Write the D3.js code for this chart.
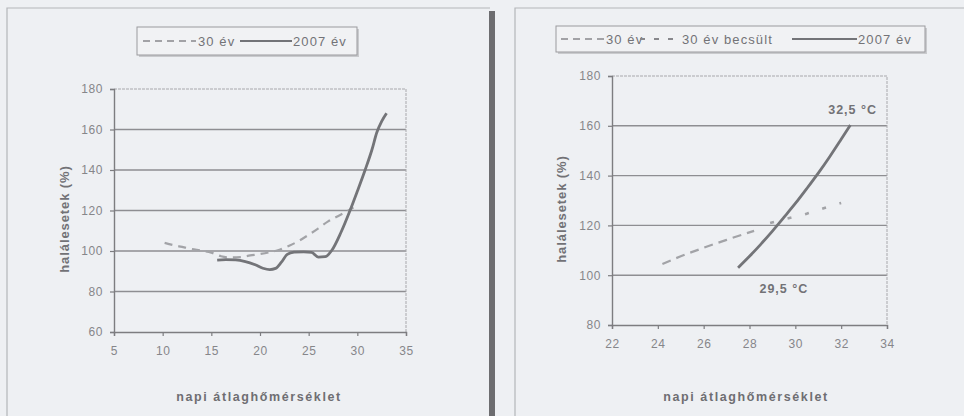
<!DOCTYPE html>
<html><head><meta charset="utf-8">
<script src="https://cdn.jsdelivr.net/npm/d3@7"></script>
<style>
html,body{margin:0;padding:0;background:#eef0f3;}
svg{display:block;font-family:"Liberation Sans",Arial,sans-serif;}
</style></head>
<body><svg id="c" width="964" height="416"></svg>
<script>
// ---------- data ----------
const leftSeriesNames = ["30 év", "2007 év"];
const left30 = [[10.2,104],[11,103],[12,102],[13,101],[14,100.2],[15,99.2],[16,97.4],[17,96.8],[18,97],[19,97.8],[20,98.5],[21,99.4],[22,100.6],[23,102.6],[24,105],[25,108],[26,111.2],[27,114.6],[28,117.2],[29,119.8],[29.6,121.5]];
const left2007 = [[15.6,95.5],[16.5,95.7],[17.5,95.6],[18.5,94.8],[19.5,93.2],[20.3,91.5],[21,90.8],[21.6,91.4],[22.2,94.5],[22.8,98.3],[23.5,99.4],[24.5,99.6],[25.3,99.3],[26,97],[26.7,97.2],[27.4,100.5],[28.3,109],[29.25,120],[30,129.5],[30.8,140],[31.5,150],[32,158.5],[32.5,164],[33,168]];
const leftXTicks = [5,10,15,20,25,30,35];
const leftYTicks = [60,80,100,120,140,160,180];

const rightSeriesNames = ["30 év", "30 év becsült", "2007 év"];
const right30 = [[24.2,104.5],[25,107.6],[26,111],[27,114.2],[28.2,117.8]];
const right30Est = [[28.9,121],[29.7,122.9],[30.5,124.7],[31.2,126.8],[32,129]];
const right2007 = [[27.5,103],[28,107.6],[28.5,112.5],[29,117.7],[29.5,123.2],[30,128.8],[30.5,134.8],[31,141],[31.5,147.6],[32,154.6],[32.4,160.3]];
const rightXTicks = [22,24,26,28,30,32,34];
const rightYTicks = [80,100,120,140,160,180];
const rightNotes = [{t:"32,5 °C", x:32.5, y:166.5}, {t:"29,5 °C", x:29.5, y:94.5}];

const xTitle = "napi átlaghőmérséklet";
const yTitle = "halálesetek (%)";

// ---------- drawing ----------
const svg = d3.select("#c");

// page frames (scan)
svg.append("path").attr("d","M7,416V8H490").attr("fill","none").attr("stroke","#b4b6ba").attr("stroke-width",1.2);
svg.append("rect").attr("x",489).attr("y",11).attr("width",6).attr("height",405).attr("fill","#6d6d70");
svg.append("path").attr("d","M515,416V8H964").attr("fill","none").attr("stroke","#b4b6ba").attr("stroke-width",1.2);

function panel(o){
  const x = d3.scaleLinear().domain(o.xd).range(o.xr);
  const y = d3.scaleLinear().domain(o.yd).range(o.yr);
  const g = svg.append("g");
  g.selectAll(".grid").data(o.yTicks.filter(v=>v>o.yd[0] && v<o.yd[1])).join("line")
    .attr("x1",o.xr[0]).attr("x2",o.xr[1]).attr("y1",d=>y(d)).attr("y2",d=>y(d))
    .attr("stroke","#8e8e92").attr("stroke-width",1.4);
  g.append("path").attr("d",`M${o.xr[0]},${o.yr[1]}H${o.xr[1]}V${o.yr[0]}`)
    .attr("fill","none").attr("stroke","#a8a8ac").attr("stroke-width",1).attr("stroke-dasharray","3,1");
  const ya = g.append("g").attr("transform",`translate(${o.xr[0]},0)`)
    .call(d3.axisLeft(y).tickValues(o.yTicks).tickSize(4).tickPadding(7).tickFormat(d3.format("d")));
  const xa = g.append("g").attr("transform",`translate(0,${o.yr[0]})`)
    .call(d3.axisBottom(x).tickValues(o.xTicks).tickSize(4).tickPadding(10).tickFormat(d3.format("d")));
  [ya,xa].forEach(a=>{
    a.select(".domain").attr("stroke","#7d7d80").attr("stroke-width",1.4);
    a.selectAll(".tick line").attr("stroke","#7d7d80").attr("stroke-width",1.2);
    a.selectAll(".tick text").attr("fill","#86868a").attr("font-size",12).attr("letter-spacing",0.6).attr("font-family","Liberation Sans, Arial");
  });
  const line = d3.line().x(d=>x(d[0])).y(d=>y(d[1])).curve(d3.curveMonotoneX);
  o.series.forEach(s=>{
    g.append("path").datum(s.data).attr("d",line).attr("fill","none")
      .attr("stroke",s.color).attr("stroke-width",s.w).attr("stroke-dasharray",s.dash||null)
      .attr("stroke-linecap","butt");
  });
  g.append("text").attr("x",o.xTitlePos[0]).attr("y",o.xTitlePos[1]).attr("text-anchor","middle")
    .attr("font-size",12.5).attr("font-weight","bold").attr("letter-spacing",1.6).attr("fill","#6e6e72").text(xTitle);
  g.append("text").attr("transform",`translate(${o.yTitlePos[0]},${o.yTitlePos[1]}) rotate(-90)`).attr("text-anchor","middle")
    .attr("font-size",13).attr("font-weight","bold").attr("letter-spacing",0.9).attr("fill","#727276").text(yTitle);
  const L = o.legend;
  g.append("rect").attr("x",L.x+2).attr("y",L.y+2).attr("width",L.w).attr("height",L.h).attr("fill","#c9cacd");
  g.append("rect").attr("x",L.x).attr("y",L.y).attr("width",L.w).attr("height",L.h).attr("fill","#f1f2f4").attr("stroke","#9a9a9e").attr("stroke-width",1);
  L.items.forEach((it,i)=>{
    const s = o.series[i];
    g.append("line").attr("x1",it.l0).attr("x2",it.l1).attr("y1",L.y+L.h/2).attr("y2",L.y+L.h/2)
      .attr("stroke",s.lcolor||s.color).attr("stroke-width",s.lw||s.w*0.8).attr("stroke-dasharray",s.ldash||s.dash||null);
    g.append("text").attr("x",it.tx).attr("y",L.y+L.h/2).attr("dy","0.36em")
      .attr("font-size",13).attr("letter-spacing",1.1).attr("fill","#737377").text(o.names[i]);
  });
  return {g,x,y};
}

panel({
  xd:[5,35], xr:[114,406], yd:[60,180], yr:[332,89],
  xTicks:leftXTicks, yTicks:leftYTicks,
  names:leftSeriesNames,
  series:[
    {data:left30, color:"#a2a3a7", w:2.2, dash:"8,6", ldash:"7,5", lcolor:"#88888c", lw:1.5},
    {data:left2007, color:"#737478", w:2.8, lw:2}
  ],
  xTitlePos:[259,401], yTitlePos:[69,219],
  legend:{x:137,y:27,w:220,h:28, items:[{l0:143,l1:196,tx:198},{l0:240,l1:292,tx:293}]}
});

const R = panel({
  xd:[22,34], xr:[612,887], yd:[80,180], yr:[325,76],
  xTicks:rightXTicks, yTicks:rightYTicks,
  names:rightSeriesNames,
  series:[
    {data:right30, color:"#a2a3a7", w:2.2, dash:"9,6", ldash:"7,5", lcolor:"#88888c", lw:1.5},
    {data:right30Est, color:"#a2a3a7", w:2.6, dash:"4,14", ldash:"5,9", lcolor:"#88888c", lw:2.2},
    {data:right2007, color:"#737478", w:2.8, lw:2}
  ],
  xTitlePos:[746,401], yTitlePos:[566,209],
  legend:{x:556,y:26,w:369,h:26, items:[{l0:561,l1:604,tx:606},{l0:640,l1:678,tx:682},{l0:792,l1:857,tx:858}]}
});
R.g.selectAll(".note").data(rightNotes).join("text")
  .attr("x",d=>R.x(d.x)).attr("y",d=>R.y(d.y)).attr("text-anchor","middle").attr("dy","0.36em")
  .attr("font-size",12.5).attr("font-weight","bold").attr("letter-spacing",1).attr("fill","#727276").text(d=>d.t);
</script></body></html>
